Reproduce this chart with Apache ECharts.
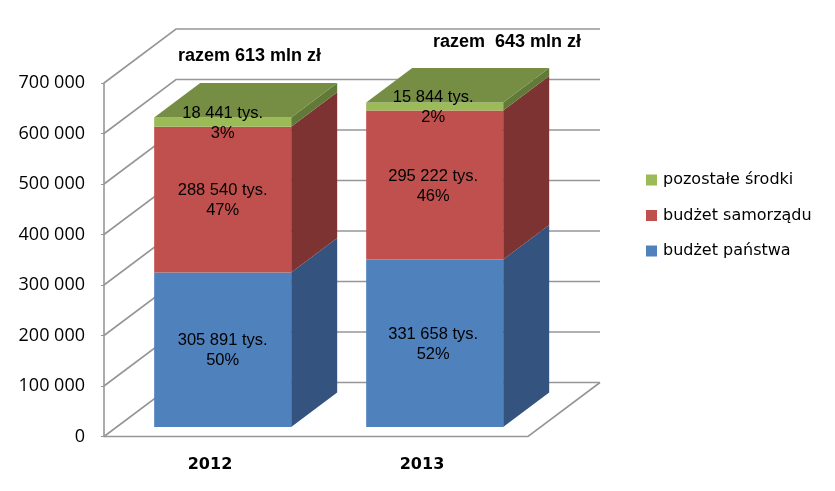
<!DOCTYPE html>
<html><head><meta charset="utf-8">
<style>html,body{margin:0;padding:0;background:#fff}#c{width:835px;height:491px}</style>
<script src="https://cdn.jsdelivr.net/npm/echarts@6/dist/echarts.min.js"></script>
</head><body><div id="c"></div>
<script>
const categories = ['2012', '2013'];
const budzetPanstwa = [305891, 331658];
const budzetSamorzadu = [288540, 295222];
const pozostaleSrodki = [18441, 15844];
const sharePanstwa = ['50%', '52%'];
const shareSamorzadu = ['47%', '46%'];
const sharePozostale = ['3%', '2%'];
const totalsText = ['razem 613 mln zł', 'razem  643 mln zł'];
const yTicks = [0, 100000, 200000, 300000, 400000, 500000, 600000, 700000];

const DEPTH_X = 72, DEPTH_Y = -54;
const BAR_FRONT = 0.176, BAR_BACK = 0.815, BAR_W = 137;
const fmtTys = v => String(v).replace(/\B(?=(\d{3})+$)/g, ' ') + ' tys.';
const fmtAxis = v => String(v).replace(/\B(?=(\d{3})+$)/g, ' ');
const LABEL_FONT = '16.5px "Liberation Sans", Arial, sans-serif';

function pts(arr, fill) {
  return { type: 'polygon', shape: { points: arr }, style: { fill: fill, stroke: null }, silent: true };
}
function barRender(values, lowers, shares, front, side, top) {
  return function (params, api) {
    const i = api.value(0);
    const c0 = api.coord([i, lowers.reduce((s, a) => s + a[i], 0)]);
    const c1 = api.coord([i, lowers.reduce((s, a) => s + a[i], 0) + values[i]]);
    const fx = DEPTH_X * BAR_FRONT, fy = DEPTH_Y * BAR_FRONT;
    const bx = DEPTH_X * (BAR_BACK - BAR_FRONT), by = DEPTH_Y * (BAR_BACK - BAR_FRONT);
    const l = c0[0] + fx - BAR_W / 2, r = l + BAR_W, yb = c0[1] + fy, yt = c1[1] + fy;
    const kids = [
      pts([[r, yb], [r + bx, yb + by], [r + bx, yt + by], [r, yt]], side),
      pts([[l, yb], [r, yb], [r, yt], [l, yt]], front)
    ];
    if (top) kids.push(pts([[l, yt], [r, yt], [r + bx, yt + by], [l + bx, yt + by]], top));
    kids.push({
      type: 'text', silent: true,
      style: {
        text: fmtTys(values[i]) + '\n' + shares[i], x: (l + r) / 2 - i * 1.5, y: (yb + yt) / 2 + 1,
        align: 'center', verticalAlign: 'middle', fill: '#000', font: LABEL_FONT, lineHeight: 20
      }
    });
    return { type: 'group', children: kids };
  };
}
function wallRender(params, api) {
  const c = params.coordSys;
  const y = api.coord([0, api.value(0)])[1];
  const kids = [];
  const stroke = { stroke: '#969696', lineWidth: 1.6, fill: null };
  kids.push({ type: 'polyline', silent: true,
    shape: { points: [[c.x, y], [c.x + DEPTH_X, y + DEPTH_Y], [c.x + c.width + DEPTH_X, y + DEPTH_Y]] }, style: stroke });
  if (api.value(0) === 0) {
    kids.push({ type: 'polyline', silent: true,
      shape: { points: [[c.x, y], [c.x + c.width, y], [c.x + c.width + DEPTH_X, y + DEPTH_Y]] }, style: stroke });
  }
  return { type: 'group', children: kids };
}
const catIdx = categories.map((_, i) => [i]);
const chart = echarts.init(document.getElementById('c'), null, { renderer: 'canvas' });
const leftOfTitles = [253, 510];
chart.setOption({
  animation: false,
  backgroundColor: '#fff',
  grid: { left: 104, top: 83, width: 424, height: 353.5, containLabel: false },
  xAxis: {
    type: 'category', data: categories,
    axisLine: { show: false }, axisTick: { show: false },
    axisLabel: { margin: 20, color: '#000', fontSize: 16, fontWeight: 'bold', fontFamily: '"DejaVu Sans", sans-serif' }
  },
  yAxis: {
    type: 'value', min: 0, max: 700000, interval: 100000,
    splitLine: { show: false },
    axisLine: { show: true, onZero: false, lineStyle: { color: '#969696', width: 1.6 } },
    axisTick: { show: true, length: 3, lineStyle: { color: '#969696' } },
    axisLabel: { margin: 19, color: '#000', fontSize: 18, fontFamily: '"Open Sans", sans-serif', formatter: fmtAxis }
  },
  legend: {
    orient: 'vertical', left: 641, top: 167, itemWidth: 11, itemHeight: 11, itemGap: 19.5,
    icon: 'rect', selectedMode: false,
    data: ['pozostałe środki', 'budżet samorządu', 'budżet państwa'],
    textStyle: { color: '#000', fontSize: 16, fontFamily: '"DejaVu Sans", sans-serif', padding: [0, 0, 0, 1] }
  },
  graphic: [
    { type: 'text', left: 178, top: 47, style: { text: totalsText[0], fill: '#000', font: 'bold 18px "Liberation Sans", Arial, sans-serif' } },
    { type: 'text', left: 433, top: 33, style: { text: totalsText[1], fill: '#000', font: 'bold 18px "Liberation Sans", Arial, sans-serif' } }
  ],
  series: [
    { type: 'custom', name: 'walls', coordinateSystem: 'cartesian2d', z: 1, data: yTicks.map(v => [v]),
      encode: { y: 0 }, renderItem: wallRender, silent: true, clip: false },
    { type: 'custom', name: 'budżet państwa', z: 2, data: catIdx, encode: { x: 0 },
      itemStyle: { color: '#4F81BD' }, clip: false,
      renderItem: barRender(budzetPanstwa, [], sharePanstwa, '#4F81BD', '#34547F') },
    { type: 'custom', name: 'budżet samorządu', z: 3, data: catIdx, encode: { x: 0 },
      itemStyle: { color: '#C0504D' }, clip: false,
      renderItem: barRender(budzetSamorzadu, [budzetPanstwa], shareSamorzadu, '#C0504D', '#7C3331') },
    { type: 'custom', name: 'pozostałe środki', z: 4, data: catIdx, encode: { x: 0 },
      itemStyle: { color: '#9BBB59' }, clip: false,
      renderItem: barRender(pozostaleSrodki, [budzetPanstwa, budzetSamorzadu], sharePozostale, '#9BBB59', '#627A38', '#768E44') }
  ]
});
</script></body></html>
